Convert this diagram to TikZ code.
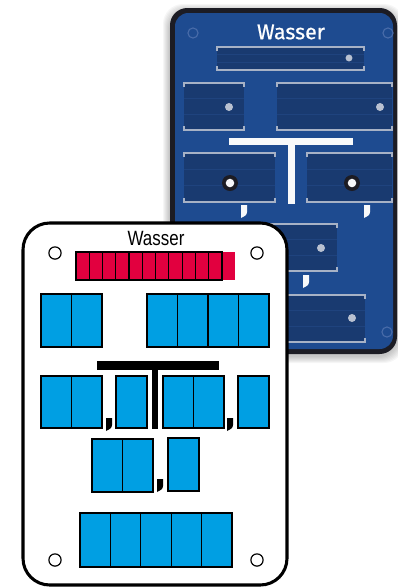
\documentclass[tikz,border=0pt]{standalone}
\usepackage{fontspec}
\setmainfont{Liberation Sans}
\newfontfamily\cardfont{Liberation Sans}[FakeStretch=0.82]
\newfontfamily\panelfont{Fira Sans}[FakeBold=0.7]
\usetikzlibrary{positioning}
\definecolor{panelblue}{HTML}{1E4B90}
\definecolor{panelrim}{HTML}{1C1C24}
\definecolor{slotbody}{HTML}{193A70}
\definecolor{slotstripe}{HTML}{1F437E}
\definecolor{railgrey}{HTML}{A7B2C6}
\definecolor{holeblue}{HTML}{4A6DAA}
\definecolor{cellblue}{HTML}{009FE3}
\definecolor{cellred}{HTML}{E2003F}

% rail slot on the back panel: x1,y1,x2,y2
\newcommand\railslot[4]{%
  \fill[slotbody] (#1,#2) rectangle (#3,#4);
  \draw[stripe] (#1,{#2+(#4-#2)/3}) -- (#3,{#2+(#4-#2)/3});
  \draw[stripe] (#1,{#2+2*(#4-#2)/3}) -- (#3,{#2+2*(#4-#2)/3});
  \draw[rail] (#1,#2+4) -- (#1,#2) -- (#3,#2) -- (#3,#2+4);
  \draw[rail] (#1,#4-4) -- (#1,#4) -- (#3,#4) -- (#3,#4-4);}
% small flag mark: colour, x, y
\newcommand\flagmark[3]{%
  \fill[#1] (#2,#3) -- (#2+6,#3) -- (#2+6,#3+7)
    .. controls (#2+6,#3+10) and (#2+3,#3+12) .. (#2,#3+13) -- cycle;}
% row of cells: x, y, count, width, height
\newcommand\cellrow[5]{%
  \foreach \i in {1,...,#3}
    \draw[cell] ({#1+(\i-1)*#4},#2) rectangle ++(#4,#5);}

\begin{document}
\begin{tikzpicture}[x=0.75pt,y=-0.75pt,
  cell/.style={draw=black,line width=0.9pt,fill=cellblue},
  redcell/.style={draw=black,line width=0.9pt,fill=cellred},
  stripe/.style={draw=slotstripe,line width=0.8pt},
  rail/.style={draw=railgrey,line width=1.3pt},
  hole/.style={draw=holeblue,line width=0.8pt},
  cardhole/.style={draw=black,line width=0.9pt,fill=white},
  cardtitle/.style={font=\cardfont\fontsize{15.5}{16}\selectfont,inner sep=0pt},
  paneltitle/.style={font=\panelfont\fontsize{16}{17}\selectfont,text=white,inner sep=0pt}]
  \useasboundingbox (0,0) rectangle (398,587);

  % back panel with soft shadow
  \foreach \s in {1,...,7}
    \fill[black,opacity=0.035,rounded corners=15pt] (170-\s,8-\s+3) rectangle (397+\s,354+\s+2);
  \fill[panelrim,rounded corners=13pt] (170,8) rectangle (397,354);
  \fill[panelblue,rounded corners=10pt] (175,13) rectangle (393,349);
  \node[paneltitle] (panellabel) at (291,32) {Wasser};
  \draw[hole] (193,33) circle[radius=3.8pt];
  \draw[hole] (388,33) circle[radius=3.8pt];
  \draw[hole] (387,332) circle[radius=3.8pt];

  \railslot{217}{47}{364}{70}
  \railslot{184}{83}{244}{130}
  \railslot{277}{83}{392}{130}
  \railslot{184}{153}{275}{202}
  \railslot{307}{153}{392}{202}
  \railslot{200}{224}{337}{271}
  \railslot{200}{295}{365}{342}
  \fill[railgrey!80!white] (349,58) circle[radius=2.6pt];
  \fill[railgrey!80!white] (229,107) circle[radius=3pt];
  \fill[railgrey!80!white] (380,107) circle[radius=3pt];
  \fill[panelrim] (230,183) circle[radius=6pt];
  \fill[white!90!railgrey] (230,183) circle[radius=3.2pt];
  \fill[panelrim] (352,183) circle[radius=6pt];
  \fill[white!90!railgrey] (352,183) circle[radius=3.2pt];
  \fill[railgrey!80!white] (321,248) circle[radius=3pt];
  \fill[railgrey!80!white] (352,318) circle[radius=3pt];

  \fill[white!92!railgrey] (229,138) rectangle (353,145);
  \fill[white!92!railgrey] (288,145) rectangle (295,204);
  \flagmark{white!92!railgrey}{241}{205}
  \flagmark{white!92!railgrey}{364}{205}
  \flagmark{white!92!railgrey}{303}{275}

  % front card
  \draw[line width=2.3pt,fill=white,rounded corners=20pt] (23,223) rectangle (287,585);
  \node[cardtitle] (cardlabel) at (156,238) {Wasser};
  \draw[cardhole] (55,253) circle[radius=4.6pt];
  \draw[cardhole] (257,253) circle[radius=4.6pt];
  \draw[cardhole] (55,560) circle[radius=4.6pt];
  \draw[cardhole] (257,560) circle[radius=4.6pt];

  \fill[cellred] (222,252) rectangle (235,280);
  \foreach \i in {1,...,11}
    \draw[redcell] ({76+(\i-1)*13.27},252) rectangle ++(13.27,28);

  \cellrow{41}{294}{2}{30.5}{53}
  \cellrow{147}{294}{4}{30.5}{53}

  \fill[black] (97,361) rectangle (219,370);
  \fill[black] (152,370) rectangle (158,429);

  \cellrow{41}{376}{2}{30.5}{52}
  \cellrow{116}{376}{1}{31}{52}
  \cellrow{163}{376}{2}{30.5}{52}
  \cellrow{238}{376}{1}{31}{52}
  \flagmark{black}{106}{418}
  \flagmark{black}{227}{418}

  \cellrow{92}{439}{2}{30.5}{53}
  \cellrow{168}{438}{1}{31}{53}
  \flagmark{black}{157}{479}

  \cellrow{80}{513}{5}{30.4}{54}
\end{tikzpicture}
\end{document}
